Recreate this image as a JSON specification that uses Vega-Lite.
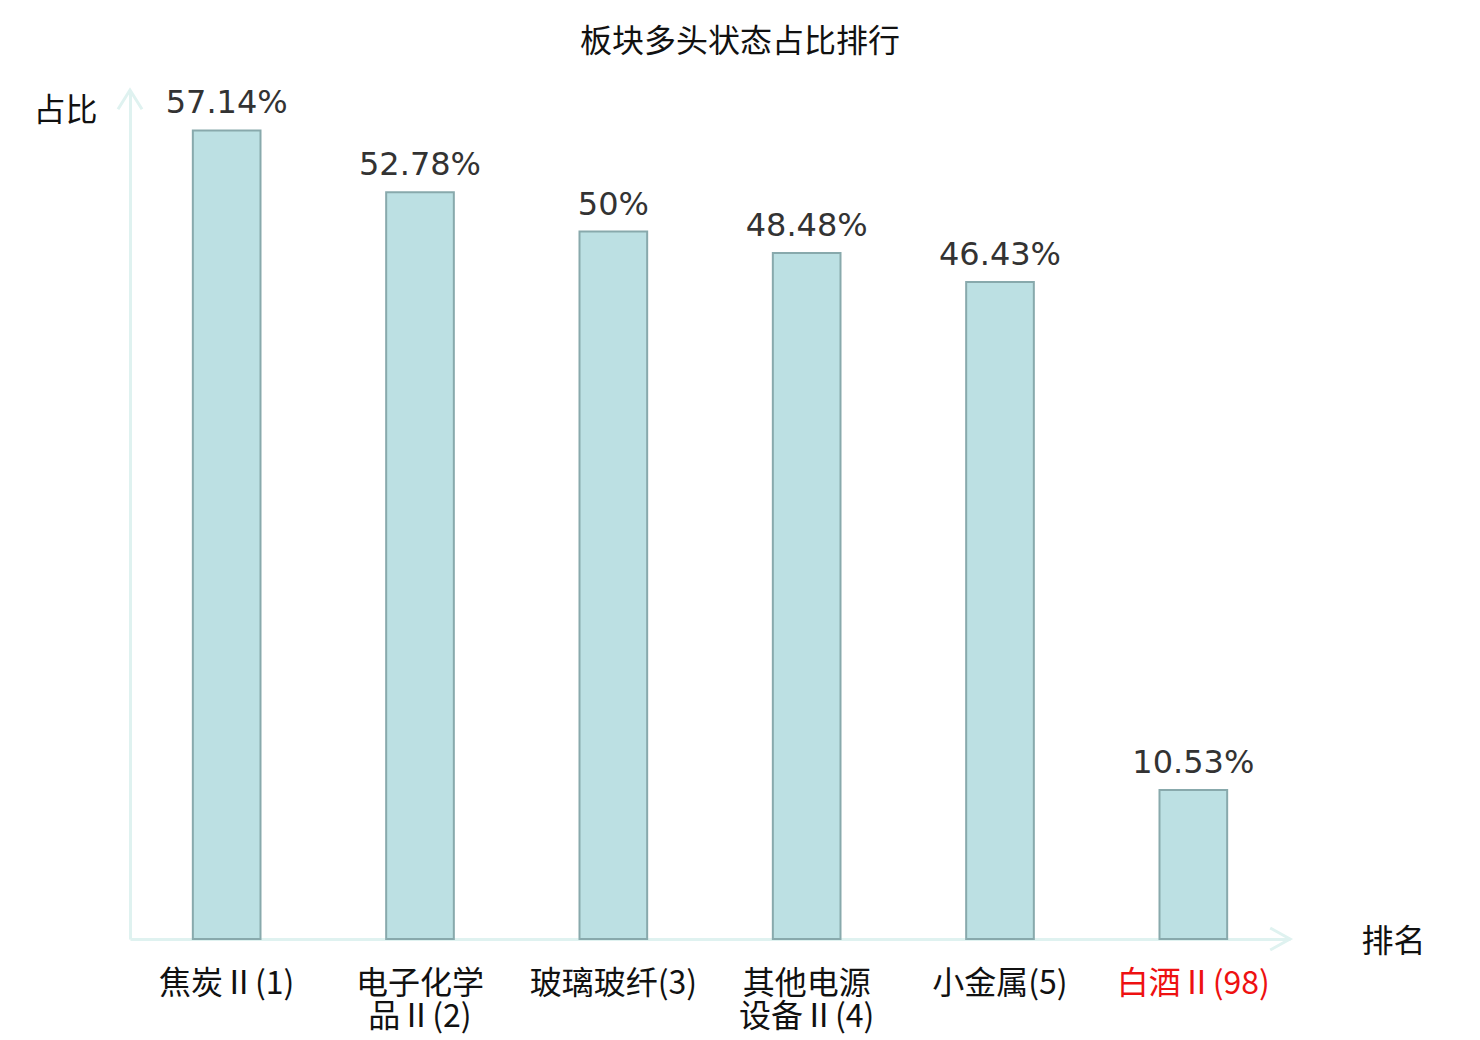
{
  "$schema": "https://vega.github.io/schema/vega-lite/v6.json",
  "width": 1160,
  "height": 849,
  "autosize": {"type": "none"},
  "padding": {"left": 130, "top": 90, "right": 190, "bottom": 101},
  "background": "white",
  "title": {
    "text": "板块多头状态占比排行",
    "font": "Noto Sans CJK SC",
    "fontSize": 32,
    "fontWeight": "normal",
    "color": "#111111",
    "anchor": "middle",
    "dx": 30,
    "offset": 25
  },
  "data": {
    "values": [
      {"sector": "焦炭Ⅱ(1)", "ratio": 0.5714},
      {"sector": "电子化学品Ⅱ(2)", "ratio": 0.5278},
      {"sector": "玻璃玻纤(3)", "ratio": 0.5},
      {"sector": "其他电源设备Ⅱ(4)", "ratio": 0.4848},
      {"sector": "小金属(5)", "ratio": 0.4643},
      {"sector": "白酒Ⅱ(98)", "ratio": 0.1053}
    ]
  },
  "layer": [
    {
      "mark": {"type": "bar", "fill": "#bce0e3", "stroke": "#88a9ac", "strokeWidth": 2},
      "encoding": {
        "x": {
          "field": "sector",
          "type": "nominal",
          "sort": null,
          "scale": {"paddingInner": 0.65, "paddingOuter": 0.325},
          "axis": {
            "title": "排名",
            "titleFont": "Noto Sans CJK SC",
            "titleFontSize": 32,
            "titleFontWeight": "normal",
            "titleColor": "#111111",
            "titleAngle": 0,
            "titleAlign": "left",
            "titleBaseline": "middle",
            "titleX": 1231,
            "titleY": 2,
            "domainColor": "#dff2f0",
            "domainWidth": 3,
            "ticks": false,
            "labelAngle": 0,
            "labelFont": "Noto Sans CJK SC",
            "labelFontSize": 32,
            "labelBaseline": "top",
            "labelPadding": 29,
            "labelLineHeight": 33,
            "labelColor": {"condition": {"test": "datum.value == '白酒Ⅱ(98)'", "value": "#ee1111"}, "value": "#111111"},
            "labelExpr": "length(datum.value) > 8 ? [substring(datum.value, 0, 4), substring(datum.value, 4)] : datum.value"
          }
        },
        "y": {
          "field": "ratio",
          "type": "quantitative",
          "scale": {"domain": [0, 0.6], "nice": false},
          "axis": {
            "title": "占比",
            "titleFont": "Noto Sans CJK SC",
            "titleFontSize": 32,
            "titleFontWeight": "normal",
            "titleColor": "#111111",
            "titleAngle": 0,
            "titleAlign": "left",
            "titleBaseline": "middle",
            "titleX": -97,
            "titleY": 20,
            "domainColor": "#dff2f0",
            "domainWidth": 3,
            "ticks": false,
            "labels": false,
            "grid": false
          }
        }
      }
    },
    {
      "mark": {"type": "text", "font": "DejaVu Sans", "fontSize": 32, "color": "#333333", "baseline": "alphabetic", "dy": -17},
      "encoding": {
        "x": {"field": "sector", "type": "nominal", "sort": null},
        "y": {"field": "ratio", "type": "quantitative"},
        "text": {"field": "ratio", "type": "quantitative", "format": ".4~p"}
      }
    },
    {
      "data": {"values": [{"axis": "y"}]},
      "mark": {"type": "point", "filled": false, "stroke": "#dff2f0", "strokeWidth": 3, "size": 576, "shape": "M-1,1.6L0,0L1,1.6", "opacity": 1},
      "encoding": {
        "x": {"value": 0},
        "y": {"datum": 0.6, "type": "quantitative"}
      }
    },
    {
      "data": {"values": [{"axis": "x"}]},
      "mark": {"type": "point", "filled": false, "stroke": "#dff2f0", "strokeWidth": 3, "size": 484, "shape": "M-1.8,-1L0,0L-1.8,1", "opacity": 1},
      "encoding": {
        "x": {"value": "width"},
        "y": {"datum": 0, "type": "quantitative"}
      }
    }
  ],
  "config": {
    "view": {"stroke": null}
  }
}
